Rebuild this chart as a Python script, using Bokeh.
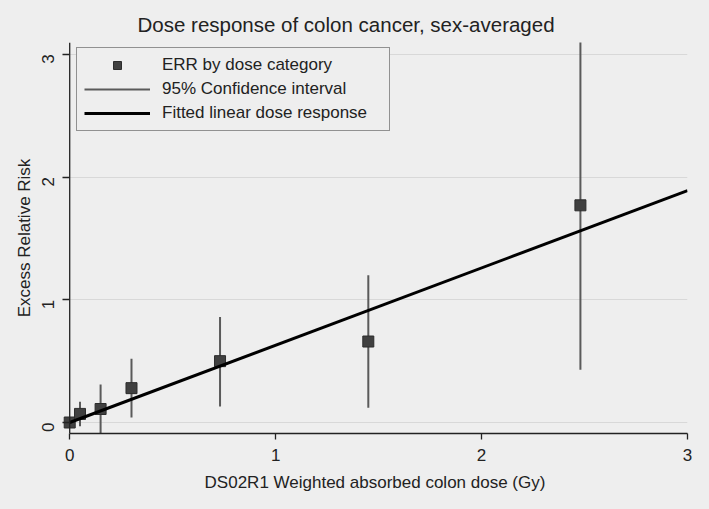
import math
from bokeh.plotting import figure
from bokeh.models import Range1d, Legend, LegendItem, FixedTicker, ColumnDataSource, Span
from bokeh.embed import file_html
from bokeh.resources import INLINE

# ---- data ----
dose = [0.0, 0.05, 0.15, 0.30, 0.73, 1.45, 2.48]
err = [0.0, 0.07, 0.11, 0.28, 0.50, 0.66, 1.77]
ci_dose = [0.05, 0.15, 0.30, 0.73, 1.45, 2.48]
ci_low = [-0.03, -0.25, 0.04, 0.13, 0.12, 0.43]
ci_high = [0.17, 0.31, 0.52, 0.86, 1.20, 3.30]
fit_dose = [0.0, 3.0]
fit_err = [0.0, 1.89]
x_ticks = [0, 1, 2, 3]
y_ticks = [0, 1, 2, 3]

BG = "#eeeeee"
FONT = "Liberation Sans"
TXT = "#222222"

p = figure(frame_width=625, frame_height=391, output_backend="svg", toolbar_location=None,
           x_range=Range1d(-0.035, 3.0), y_range=Range1d(-0.0896, 3.097),
           min_border_left=62, min_border_right=6, min_border_top=42,
           min_border_bottom=60)
p.background_fill_color = BG
p.border_fill_color = BG
p.outline_line_color = None

p.title.text = "Dose response of colon cancer, sex-averaged"
p.title.align = "left"
p.title.offset = 75
p.title.standoff = 13
p.title.text_font = FONT
p.title.text_font_size = "20.5px"
p.title.text_font_style = "normal"
p.title.text_color = TXT

ci_src = ColumnDataSource(dict(x=ci_dose, lo=ci_low, hi=ci_high))
pt_src = ColumnDataSource(dict(x=dose, y=err))
fit_src = ColumnDataSource(dict(x=fit_dose, y=fit_err))

r_ci = p.segment(x0="x", y0="lo", x1="x", y1="hi", source=ci_src,
                 line_color="#5a5a5a", line_width=2)
r_pt = p.scatter(x="x", y="y", source=pt_src, marker="square", size=11,
                 fill_color="#404040", line_color="#2c2c2c", line_width=1)
r_fit = p.line(x="x", y="y", source=fit_src, line_color="#000000", line_width=3)

# axes
for ax in (p.xaxis[0], p.yaxis[0]):
    ax.axis_line_color = TXT
    ax.axis_line_width = 1.3
    ax.major_tick_line_color = TXT
    ax.major_tick_line_width = 1.3
    ax.major_tick_in = 0
    ax.major_tick_out = 6
    ax.minor_tick_line_color = None
    ax.major_label_text_font = FONT
    ax.major_label_text_font_size = "17px"
    ax.major_label_text_color = TXT
    ax.axis_label_text_font = FONT
    ax.axis_label_text_font_size = "17px"
    ax.axis_label_text_font_style = "normal"
    ax.axis_label_text_color = TXT

p.xaxis[0].ticker = FixedTicker(ticks=x_ticks)
p.yaxis[0].ticker = FixedTicker(ticks=y_ticks)
p.xaxis[0].bounds = (0, 3)
p.xaxis[0].axis_label = "DS02R1 Weighted absorbed colon dose (Gy)"
p.xaxis[0].major_label_standoff = 9
p.xaxis[0].axis_label_standoff = 9

p.yaxis[0].axis_label = "Excess Relative Risk"
p.yaxis[0].axis_line_color = None
p.yaxis[0].major_tick_in = 7
p.yaxis[0].major_tick_out = 0
p.yaxis[0].major_label_orientation = math.pi / 2
p.yaxis[0].major_label_standoff = 14
p.yaxis[0].axis_label_standoff = 0

# vertical axis line drawn at dose 0
p.add_layout(Span(location=0, dimension="height", line_color=TXT, line_width=1.3))

p.xgrid.grid_line_color = None
p.ygrid.ticker = FixedTicker(ticks=y_ticks)
p.ygrid.grid_line_color = "#d8d8d8"
p.ygrid.grid_line_width = 1

legend = Legend(items=[
    LegendItem(label="ERR by dose category", renderers=[r_pt]),
    LegendItem(label="95% Confidence interval", renderers=[r_ci]),
    LegendItem(label="Fitted linear dose response", renderers=[r_fit]),
], location=(14, 302))
legend.border_line_color = "#333333"
legend.border_line_width = 1
legend.background_fill_color = BG
legend.background_fill_alpha = 1.0
legend.label_text_font = FONT
legend.label_text_font_size = "17px"
legend.label_text_color = TXT
legend.glyph_width = 66
legend.glyph_height = 20
legend.label_height = 20
legend.label_width = 220
legend.label_standoff = 12
legend.spacing = 4
legend.padding = 7
legend.margin = 0
p.add_layout(legend)

html = file_html(p, INLINE)
html = html.replace("</head>", "<style>html, body { background: #eeeeee; }</style></head>", 1)
open("out.html", "w").write(html)
